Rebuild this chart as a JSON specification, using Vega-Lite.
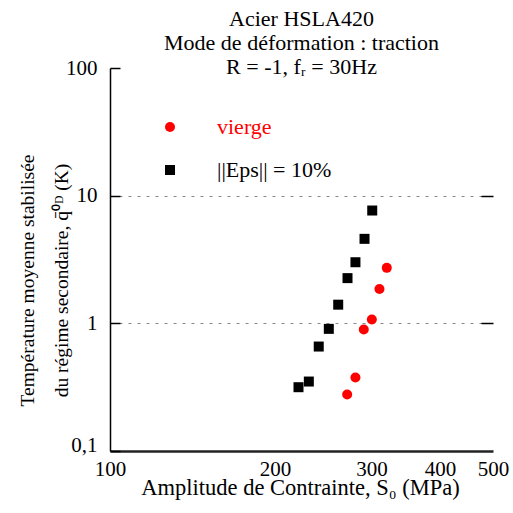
{
  "$schema": "https://vega.github.io/schema/vega-lite/v6.json",
  "width": 383,
  "height": 383,
  "autosize": {"type": "none"},
  "padding": {"left": 110, "top": 68, "right": 20, "bottom": 62},
  "background": "white",
  "config": {
    "font": "Liberation Serif",
    "view": {"stroke": null},
    "axis": {"domain": true, "domainColor": "black", "domainWidth": 1.5, "tickColor": "black", "labelColor": "black", "titleColor": "black", "labelFont": "Liberation Serif", "titleFont": "Liberation Serif", "titleFontWeight": "normal"}
  },
  "title": {
    "text": ["Acier HSLA420", "Mode de déformation : traction", "R = -1, fᵣ = 30Hz"],
    "font": "Liberation Serif",
    "fontSize": 22,
    "fontWeight": "normal",
    "lineHeight": 24,
    "anchor": "middle",
    "frame": "group",
    "offset": -22,
    "color": "black"
  },
  "resolve": {"axis": {"y": "independent"}},
  "layer": [
    {
      "data": {
        "values": [
          {"S": 320, "T": 2.72, "serie": "vierge"},
          {"S": 310.3, "T": 1.86, "serie": "vierge"},
          {"S": 300.5, "T": 1.07, "serie": "vierge"},
          {"S": 290.5, "T": 0.894, "serie": "vierge"},
          {"S": 280.5, "T": 0.376, "serie": "vierge"},
          {"S": 270.9, "T": 0.277, "serie": "vierge"},
          {"S": 301, "T": 7.65, "serie": "||Eps|| = 10%"},
          {"S": 291.4, "T": 4.59, "serie": "||Eps|| = 10%"},
          {"S": 280.5, "T": 3.01, "serie": "||Eps|| = 10%"},
          {"S": 271.3, "T": 2.26, "serie": "||Eps|| = 10%"},
          {"S": 260.9, "T": 1.40, "serie": "||Eps|| = 10%"},
          {"S": 250.8, "T": 0.905, "serie": "||Eps|| = 10%"},
          {"S": 240.4, "T": 0.658, "serie": "||Eps|| = 10%"},
          {"S": 230.6, "T": 0.350, "serie": "||Eps|| = 10%"},
          {"S": 220.8, "T": 0.316, "serie": "||Eps|| = 10%"}
        ]
      },
      "mark": {"type": "point", "filled": true, "opacity": 1, "size": 100},
      "encoding": {
        "x": {
          "field": "S", "type": "quantitative",
          "scale": {"type": "log", "domain": [100, 500], "nice": false},
          "axis": {
            "values": [100, 200, 300, 400, 500],
            "format": "d",
            "grid": false,
            "ticks": false,
            "tickSize": 0,
            "domain": true,
            "domainColor": "#222222",
            "domainWidth": 2.5,
            "labelPadding": 7,
            "labelFontSize": 21,
            "labelFlush": false,
            "labelOverlap": false,
            "title": "Amplitude de Contrainte, S₀ (MPa)",
            "titleFontSize": 22.5,
            "titleBaseline": "alphabetic",
            "titleX": 190,
            "titleY": 43
          }
        },
        "y": {
          "field": "T", "type": "quantitative",
          "scale": {"type": "log", "domain": [0.1, 100], "nice": false},
          "axis": {
            "orient": "left",
            "values": [0.1, 1, 10, 100],
            "labelExpr": "datum.value < 0.5 ? '0,1' : format(datum.value, 'd')",
            "labelFontSize": 21,
            "labelPadding": 23,
            "labelFlush": false,
            "labelOverlap": false,
            "labelOffset": {"condition": {"test": "datum.value < 0.5", "value": -6}, "value": 0},
            "tickSize": -10,
            "tickColor": "#000000",
            "tickWidth": 1.5,
            "domain": true,
            "domainColor": "#000000",
            "domainWidth": 1.5,
            "grid": true,
            "gridColor": "#888888",
            "gridDash": [3, 6],
            "gridOpacity": {"condition": {"test": "datum.value < 0.5 || datum.value > 50", "value": 0}, "value": 1},
            "title": ["Température moyenne stabilisée", "du régime secondaire, q̄⁰ᴰ (K)"],
            "titleFontSize": 19.5,
            "titleLineHeight": 34,
            "titleBaseline": "alphabetic",
            "titleAlign": "center",
            "titleAngle": -90,
            "titleX": -77,
            "titleY": 212
          }
        },
        "color": {
          "field": "serie", "type": "nominal",
          "scale": {"domain": ["vierge", "||Eps|| = 10%"], "range": ["#ff0000", "#000000"]},
          "legend": {
            "title": null,
            "orient": "none",
            "legendX": 49,
            "legendY": 48,
            "padding": 0,
            "labelFont": "Liberation Serif",
            "labelFontSize": 22,
            "labelOffset": 36,
            "rowPadding": 21,
            "symbolSize": 100,
            "symbolStrokeWidth": 0,
            "labelLimit": 300,
            "labelColor": {"expr": "datum.value == 'vierge' ? '#ff0000' : '#000000'"}
          }
        },
        "shape": {
          "field": "serie", "type": "nominal",
          "scale": {"domain": ["vierge", "||Eps|| = 10%"], "range": ["circle", "square"]},
          "legend": null
        }
      }
    },
    {
      "mark": {"type": "rule", "color": "black", "strokeWidth": 1.5},
      "encoding": {
        "x": {"datum": 100, "type": "quantitative"},
        "x2": {"datum": 125.2},
        "y": {"datum": 100, "type": "quantitative", "axis": null}
      }
    },
    {
      "mark": {"type": "rule", "color": "black", "strokeWidth": 1.5},
      "encoding": {
        "x": {"datum": 409.5, "type": "quantitative"},
        "x2": {"datum": 500},
        "y": {"datum": 100, "type": "quantitative", "axis": null}
      }
    },
    {
      "mark": {"type": "rule", "color": "black", "strokeWidth": 1.5},
      "encoding": {
        "x": {"datum": 100, "type": "quantitative"},
        "x2": {"datum": 500},
        "y": {"datum": 0.1, "type": "quantitative", "axis": null}
      }
    },
    {
      "mark": {"type": "rule", "color": "black", "strokeWidth": 1.5},
      "encoding": {
        "x": {"datum": 500, "type": "quantitative"},
        "y": {
          "datum": 0.1, "type": "quantitative",
          "axis": {"orient": "right", "values": [1, 10], "labels": false, "title": null, "grid": false, "tickSize": -12, "tickColor": "#000000", "tickWidth": 1.5, "domain": false}
        },
        "y2": {"datum": 100}
      }
    }
  ]
}
